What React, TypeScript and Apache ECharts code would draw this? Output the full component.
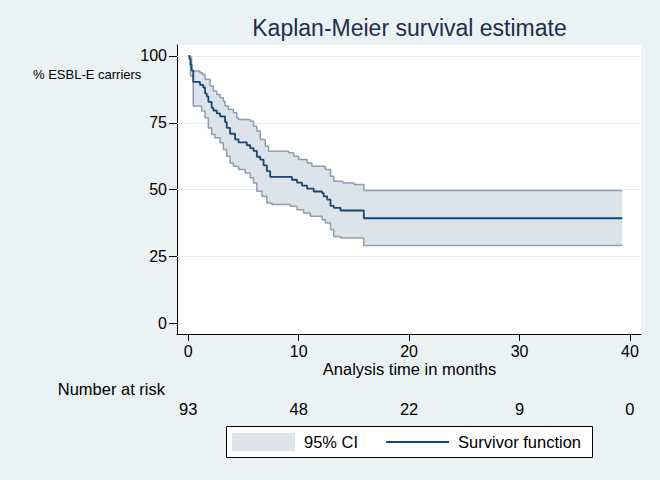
import React, { useEffect, useRef } from "react";
import * as echarts from "echarts";

// Kaplan-Meier survivor function (months, %)
const survTime = [0, 0.1, 0.2, 0.3, 0.45, 1.06, 1.36, 1.52, 1.67, 1.82, 2.12, 2.27, 2.58, 2.88, 3.33, 3.48, 3.79, 4.24, 4.55, 5.3, 5.61, 5.91, 6.21, 6.52, 6.82, 7.12, 7.42, 9.39, 9.85, 10.3, 10.76, 11.36, 12.12, 12.27, 12.58, 12.88, 13.18, 13.79, 15.9, 39.3];
const survValue = [100, 98.9, 96.8, 94.6, 90.3, 89.2, 88.2, 86.0, 84.9, 82.8, 80.6, 79.6, 78.5, 77.4, 75.3, 73.1, 70.9, 68.8, 67.7, 66.6, 65.5, 64.5, 62.3, 61.2, 59.1, 56.9, 54.8, 53.7, 52.6, 51.5, 50.4, 49.3, 48.7, 47.5, 46.3, 43.9, 43.2, 42.2, 39.3, 39.3];

// Upper 95% confidence bound
const upperTime = [0.1, 0.2, 0.3, 1.06, 1.3, 1.52, 1.97, 2.27, 2.58, 2.88, 3.18, 3.33, 3.64, 4.09, 4.39, 4.55, 5.61, 5.91, 6.21, 6.52, 6.97, 7.27, 9.09, 9.55, 10.0, 10.76, 11.2, 12.42, 12.88, 13.18, 14.0, 15.0, 15.9, 39.3];
const upperValue = [100, 99.5, 94.4, 93.75, 93.1, 91.25, 88.75, 86.9, 85.6, 84.4, 83.1, 81.25, 80.0, 78.75, 76.9, 76.25, 75.6, 73.75, 71.9, 68.75, 66.25, 64.4, 63.75, 62.5, 61.25, 60.0, 58.75, 57.5, 55.0, 53.1, 52.5, 51.9, 49.7, 49.7];

// Lower 95% confidence bound
const lowerTime = [0.1, 0.2, 0.45, 1.21, 1.52, 1.82, 2.12, 2.42, 2.88, 3.18, 3.48, 3.79, 4.09, 4.55, 5.15, 5.61, 5.91, 6.21, 6.67, 7.12, 7.58, 9.24, 9.85, 10.45, 11.06, 12.12, 12.42, 12.88, 13.18, 13.79, 15.9, 39.3];
const lowerValue = [97.0, 92.5, 81.25, 79.4, 76.9, 73.1, 70.6, 69.4, 67.5, 65.0, 62.5, 60.0, 58.75, 57.5, 56.25, 54.4, 52.5, 49.4, 47.5, 45.0, 44.4, 43.75, 42.5, 41.25, 40.0, 38.75, 37.5, 35.0, 32.5, 31.9, 29.1, 29.1];

const xTicks = [0, 10, 20, 30, 40];
const yTicks = [0, 25, 50, 75, 100];
const yGrid = [25, 50, 75, 100];
const atRisk = [93, 48, 22, 9, 0];

const pairs = (t: number[], v: number[]) => t.map((x, i) => [x, v[i]]);

function stepPts(t: number[], v: number[]) {
  const pts: number[][] = [];
  for (let i = 0; i < t.length; i++) {
    if (i > 0) pts.push([t[i], v[i - 1]]);
    pts.push([t[i], v[i]]);
  }
  return pts;
}

export default function App() {
  const ref = useRef<HTMLDivElement>(null);
  useEffect(() => {
    const chart = echarts.init(ref.current!, null, { renderer: "svg", width: 660, height: 480 });
    const font = "'Liberation Sans', Arial, sans-serif";
    const bandColor = "#dce3eb";
    const ciLine = "#8e9db0";
    const navy = "#1a476f";
    const X_MIN = -1.02, X_MAX = 41.0, Y_MIN = -4.0, Y_MAX = 104.1;

    chart.setOption({
      animation: false,
      backgroundColor: "#eaf2f3",
      textStyle: { fontFamily: font },
      grid: { left: 177, top: 45, width: 464, height: 289, show: true, backgroundColor: "#ffffff", borderWidth: 0 },
      xAxis: [
        {
          type: "value", min: X_MIN, max: X_MAX,
          axisLine: { show: true, onZero: false, lineStyle: { color: "#000", width: 1 } },
          axisTick: { show: true, customValues: xTicks, length: 7, lineStyle: { color: "#000" } },
          axisLabel: { customValues: xTicks, fontSize: 16, color: "#000", margin: 9, fontFamily: font },
          splitLine: { show: false },
        },
        {
          type: "value", min: X_MIN, max: X_MAX, position: "bottom", offset: 66,
          axisLine: { show: false }, axisTick: { show: false },
          axisLabel: {
            customValues: xTicks, fontSize: 16.5, color: "#000", margin: 0, fontFamily: font,
            formatter: (v: number) => { const i = xTicks.indexOf(v); return i >= 0 ? String(atRisk[i]) : ""; },
          },
          splitLine: { show: false },
        },
      ],
      yAxis: {
        type: "value", min: Y_MIN, max: Y_MAX,
        axisLine: { show: true, onZero: false, lineStyle: { color: "#000", width: 1 } },
        axisTick: { show: true, customValues: yTicks, length: 8, lineStyle: { color: "#000" } },
        axisLabel: { customValues: yTicks, fontSize: 16, color: "#000", margin: 10, fontFamily: font },
        splitLine: { show: false },
      },
      legend: {
        data: [
          { name: "95% CI", icon: "rect" },
          { name: "Survivor function", itemStyle: { opacity: 0, borderWidth: 0 } },
        ],
        left: 226, top: 427, orient: "horizontal",
        padding: [6, 6, 6, 6], itemGap: 27, itemWidth: 63, itemHeight: 18,
        backgroundColor: "transparent", borderWidth: 0,
        textStyle: { fontSize: 16.5, color: "#000", fontFamily: font, padding: [0, 0, 0, 4] },
        selectedMode: false,
      },
      graphic: [
        { type: "rect", z: 0, shape: { x: 226.5, y: 426.5, width: 366, height: 31 }, style: { fill: "#ffffff", stroke: "#000000", lineWidth: 1 } },
        { type: "text", x: 409.5, y: 28, style: { text: "Kaplan-Meier survival estimate", fontSize: 23, fill: "#1f2d50", align: "center", verticalAlign: "middle", fontFamily: font } },
        { type: "text", x: 33, y: 74, style: { text: "% ESBL-E carriers", fontSize: 13, fill: "#000", align: "left", verticalAlign: "middle", fontFamily: font } },
        { type: "text", x: 409.5, y: 369, style: { text: "Analysis time in months", fontSize: 16.5, fill: "#000", align: "center", verticalAlign: "middle", fontFamily: font } },
        { type: "text", x: 165, y: 389, style: { text: "Number at risk", fontSize: 16.5, fill: "#000", align: "right", verticalAlign: "middle", fontFamily: font } },
      ],
      series: [
        {
          name: "grid", type: "line", data: [], z: 1, silent: true,
          markLine: {
            z: 1, silent: true, symbol: "none", label: { show: false },
            lineStyle: { color: "#e4edef", width: 1, type: "solid" },
            data: yGrid.map((y) => ({ yAxis: y })),
          },
        },
        {
          name: "95% CI", type: "custom", z: 2, silent: true,
          itemStyle: { color: bandColor },
          data: [[0, 0]],
          encode: { x: 0, y: 1 },
          renderItem: (_params: any, api: any) => {
            const pts = stepPts(upperTime, upperValue)
              .concat(stepPts(lowerTime, lowerValue).reverse())
              .map((p) => api.coord(p));
            return { type: "polygon", shape: { points: pts }, style: { fill: bandColor, stroke: "none" } };
          },
        },
        {
          name: "upper", type: "line", step: "end", z: 3, showSymbol: false, symbol: "none", silent: true,
          data: pairs(upperTime, upperValue), lineStyle: { color: ciLine, width: 1.5 },
        },
        {
          name: "lower", type: "line", step: "end", z: 3, showSymbol: false, symbol: "none", silent: true,
          data: pairs(lowerTime, lowerValue), lineStyle: { color: ciLine, width: 1.5 },
        },
        {
          name: "Survivor function", type: "line", step: "end", z: 4, showSymbol: false, symbol: "none", silent: true,
          color: navy,
          data: pairs(survTime, survValue), lineStyle: { color: navy, width: 1.8 },
        },
      ],
    });
    return () => chart.dispose();
  }, []);
  return <div ref={ref} style={{ position: "fixed", left: 0, top: 0, width: 660, height: 480 }} />;
}
